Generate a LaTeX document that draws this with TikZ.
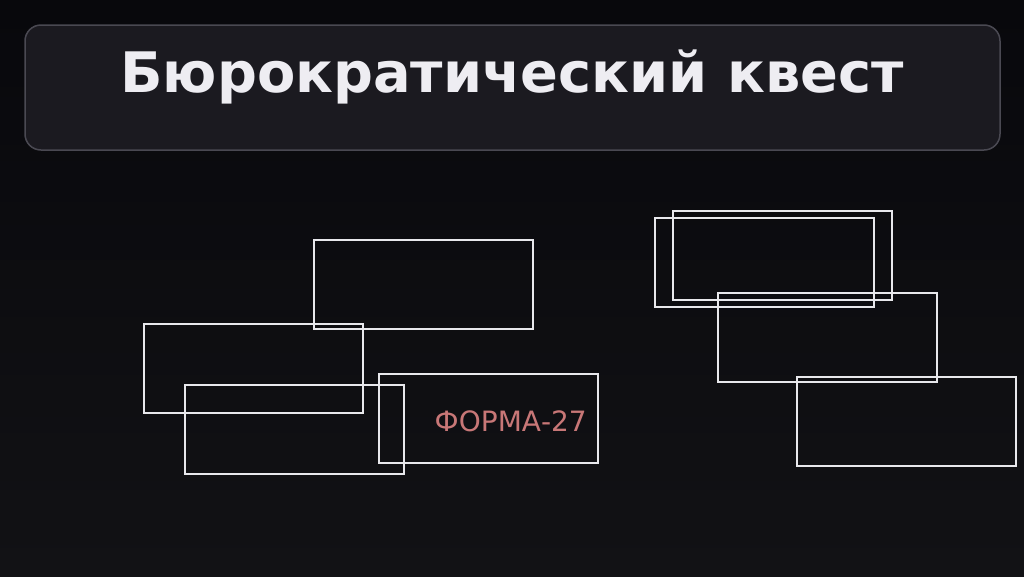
\documentclass[tikz,border=0pt]{standalone}
\usepackage{fontspec}
\setmainfont{DejaVu Sans}
\definecolor{bgtop}{HTML}{08080C}
\definecolor{bgbot}{HTML}{121215}
\definecolor{titlefill}{HTML}{1B1A20}
\definecolor{titleline}{HTML}{4A4952}
\definecolor{titletext}{HTML}{EEEDF2}
\definecolor{formline}{HTML}{E8E8EC}
\definecolor{formtext}{HTML}{C87777}
\begin{document}
\begin{tikzpicture}[x=1pt,y=-1pt,
  form/.style={draw=formline,line width=2pt,minimum width=219pt,minimum height=89pt,inner sep=0pt,anchor=north west},
  ]
\useasboundingbox (0,0) rectangle (1024,576);
\shade[top color=bgtop,bottom color=bgbot] (0,0) rectangle (1024,576);
\draw[fill=titlefill,draw=titleline,line width=1.5pt,rounded corners=16pt] (25,25) rectangle (1000,150);
\node[anchor=base,text=titletext,font=\bfseries\fontsize{55.8}{60}\selectfont] (title) at (512,92) {Бюрократический квест};
\node[form] (f1) at (312.5,238.5) {};
\node[form] (f2) at (142.5,322.5) {};
\node[form] (f3) at (183.5,383.5) {};
\node[form] (f4) at (377.5,372.5) {};
\node[anchor=base east,text=formtext,font=\fontsize{28}{30}\selectfont,inner sep=0pt] (f4t) at (587,431) {ФОРМА-27};
\node[form] (f5) at (653.5,216.5) {};
\node[form] (f6) at (671.5,209.5) {};
\node[form] (f7) at (716.5,291.5) {};
\node[form] (f8) at (795.5,375.5) {};
\end{tikzpicture}
\end{document}
